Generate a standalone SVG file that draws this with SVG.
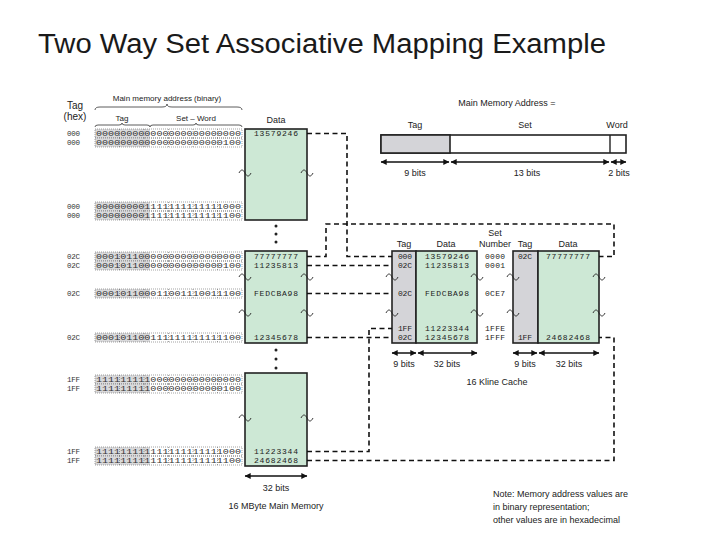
<svg xmlns="http://www.w3.org/2000/svg" xmlns:xlink="http://www.w3.org/1999/xlink" width="720" height="540" viewBox="0 0 720 540">
<style>
.t{font-family:"Liberation Sans",Arial,sans-serif;fill:#222}
.m{font-family:"Liberation Mono","Courier New",monospace;fill:#222}
.box{fill:#cde8d5;stroke:#222;stroke-width:1.6}
.tagc{fill:#d4d4d8;stroke:#222;stroke-width:1.6}
.dash{fill:none;stroke:#111;stroke-width:1.6;stroke-dasharray:5 3.5}
.til{fill:none;stroke:#222;stroke-width:0.9}
.dot{fill:none;stroke:#666;stroke-width:0.6;stroke-dasharray:1 1}
.gray{fill:#d9d9db}
.arr{stroke:#111;stroke-width:1.5;marker-start:url(#ah);marker-end:url(#ah)}
.brace{fill:none;stroke:#333;stroke-width:0.8}
.bits{font-family:"Liberation Mono","Courier New",monospace;fill:#333;font-size:7.5px}
.hx{font-family:"Liberation Mono","Courier New",monospace;fill:#333;font-size:7.5px}
.dv{font-family:"Liberation Mono","Courier New",monospace;fill:#222;font-size:8px}
</style>
<defs>
<marker id="ah" viewBox="0 0 10 10" refX="9.5" refY="5" markerWidth="7" markerHeight="6" orient="auto-start-reverse" markerUnits="userSpaceOnUse">
<path d="M0,0 L10,5 L0,10 z" fill="#111"/>
</marker>
<path id="tl" d="M-6,1 c2,-4 4,-4 6,0 c2,4 4,4 6,0" class="til"/>
<g id="bitbox">
<rect x="95" y="0" width="55" height="9" class="gray"/>
<rect x="95" y="0" width="147" height="9" class="dot"/>
<path d="M119.5,0v9M144,0v9M168.5,0v9M193,0v9M217.5,0v9" class="dot"/>
</g>
</defs>

<text class="t" x="38" y="53" font-size="27" textLength="568" lengthAdjust="spacingAndGlyphs" style="fill:#1a1a1a">Two Way Set Associative Mapping Example</text>

<g id="mm-header">
<text class="t" x="75" y="109" font-size="10" text-anchor="middle">Tag</text>
<text class="t" x="75" y="120" font-size="10" text-anchor="middle">(hex)</text>
<text class="t" x="167" y="101" font-size="8" text-anchor="middle">Main memory address (binary)</text>
<path class="brace" d="M95,110 q0,-3 5,-3 H162 q5,0 5,-3 q0,3 5,3 H237 q5,0 5,3"/>
<text class="t" x="122" y="121" font-size="8" text-anchor="middle">Tag</text>
<text class="t" x="196" y="121" font-size="8" text-anchor="middle">Set – Word</text>
<path class="brace" d="M95,127 q0,-2 3,-2 H119 q3,0 3,-2 q0,2 3,2 H147 q3,0 3,2"/>
<path class="brace" d="M150,127 q0,-2 3,-2 H193 q3,0 3,-2 q0,2 3,2 H239 q3,0 3,2"/>
<text class="t" x="276" y="123" font-size="9" text-anchor="middle">Data</text>
</g>

<g id="mm-box1">
<rect x="245" y="129" width="62" height="91" class="box"/>
<use xlink:href="#tl" x="245" y="172"/>
<use xlink:href="#tl" x="307" y="172"/>
</g>
<g id="mm-box2">
<rect x="245" y="251" width="62" height="92" class="box"/>
<use xlink:href="#tl" x="245" y="276"/>
<use xlink:href="#tl" x="307" y="276"/>
<use xlink:href="#tl" x="245" y="312"/>
<use xlink:href="#tl" x="307" y="312"/>
</g>
<g id="mm-box3">
<rect x="245" y="373" width="62" height="93" class="box"/>
<use xlink:href="#tl" x="245" y="417"/>
<use xlink:href="#tl" x="307" y="417"/>
</g>
<g id="mm-dots" fill="#222">
<circle cx="276" cy="226" r="1.5"/><circle cx="276" cy="234" r="1.5"/><circle cx="276" cy="242" r="1.5"/>
<circle cx="276" cy="350" r="1.5"/><circle cx="276" cy="359" r="1.5"/><circle cx="276" cy="368" r="1.5"/>
</g>

<g id="row-a"><use xlink:href="#bitbox" y="129"/>
<text class="hx" x="67" y="136.2" textLength="13">000</text>
<text class="bits" x="96" y="136.2" textLength="145" lengthAdjust="spacingAndGlyphs">000000000000000000000000</text>
<text class="dv" x="254" y="136.3" textLength="44">13579246</text></g>
<g id="row-b"><use xlink:href="#bitbox" y="138"/>
<text class="hx" x="67" y="145.2" textLength="13">000</text>
<text class="bits" x="96" y="145.2" textLength="145" lengthAdjust="spacingAndGlyphs">000000000000000000000100</text></g>
<g id="row-c"><use xlink:href="#bitbox" y="202"/>
<text class="hx" x="67" y="209.2" textLength="13">000</text>
<text class="bits" x="96" y="209.2" textLength="145" lengthAdjust="spacingAndGlyphs">000000001111111111111000</text></g>
<g id="row-d"><use xlink:href="#bitbox" y="211"/>
<text class="hx" x="67" y="218.2" textLength="13">000</text>
<text class="bits" x="96" y="218.2" textLength="145" lengthAdjust="spacingAndGlyphs">000000001111111111111100</text></g>
<g id="row-e"><use xlink:href="#bitbox" y="252"/>
<text class="hx" x="67" y="259.2" textLength="13">02C</text>
<text class="bits" x="96" y="259.2" textLength="145" lengthAdjust="spacingAndGlyphs">000101100000000000000000</text>
<text class="dv" x="254" y="259.3" textLength="44">77777777</text></g>
<g id="row-f"><use xlink:href="#bitbox" y="261"/>
<text class="hx" x="67" y="268.2" textLength="13">02C</text>
<text class="bits" x="96" y="268.2" textLength="145" lengthAdjust="spacingAndGlyphs">000101100000000000000100</text>
<text class="dv" x="254" y="268.3" textLength="44">11235813</text></g>
<g id="row-g"><use xlink:href="#bitbox" y="289"/>
<text class="hx" x="67" y="296.2" textLength="13">02C</text>
<text class="bits" x="96" y="296.2" textLength="145" lengthAdjust="spacingAndGlyphs">000101100011001110011100</text>
<text class="dv" x="254" y="296.3" textLength="44">FEDCBA98</text></g>
<g id="row-h"><use xlink:href="#bitbox" y="333"/>
<text class="hx" x="67" y="340.2" textLength="13">02C</text>
<text class="bits" x="96" y="340.2" textLength="145" lengthAdjust="spacingAndGlyphs">000101100111111111111100</text>
<text class="dv" x="254" y="340.3" textLength="44">12345678</text></g>
<g id="row-i"><use xlink:href="#bitbox" y="375"/>
<text class="hx" x="67" y="382.2" textLength="13">1FF</text>
<text class="bits" x="96" y="382.2" textLength="145" lengthAdjust="spacingAndGlyphs">111111111000000000000000</text></g>
<g id="row-j"><use xlink:href="#bitbox" y="384"/>
<text class="hx" x="67" y="391.2" textLength="13">1FF</text>
<text class="bits" x="96" y="391.2" textLength="145" lengthAdjust="spacingAndGlyphs">111111111000000000000100</text></g>
<g id="row-k"><use xlink:href="#bitbox" y="447"/>
<text class="hx" x="67" y="454.2" textLength="13">1FF</text>
<text class="bits" x="96" y="454.2" textLength="145" lengthAdjust="spacingAndGlyphs">111111111111111111111000</text>
<text class="dv" x="254" y="454.3" textLength="44">11223344</text></g>
<g id="row-l"><use xlink:href="#bitbox" y="456"/>
<text class="hx" x="67" y="463.2" textLength="13">1FF</text>
<text class="bits" x="96" y="463.2" textLength="145" lengthAdjust="spacingAndGlyphs">111111111111111111111100</text>
<text class="dv" x="254" y="463.3" textLength="44">24682468</text></g>

<g id="mm-footer">
<line x1="245" y1="476" x2="307" y2="476" class="arr"/>
<text class="t" x="276" y="491" font-size="9" text-anchor="middle">32 bits</text>
<text class="t" x="276" y="509" font-size="9" text-anchor="middle">16 MByte Main Memory</text>
</g>

<g id="address-format">
<text class="t" x="507" y="106" font-size="9" text-anchor="middle">Main Memory Address =</text>
<text class="t" x="415" y="128" font-size="9" text-anchor="middle">Tag</text>
<text class="t" x="525" y="128" font-size="9" text-anchor="middle">Set</text>
<text class="t" x="617" y="128" font-size="9" text-anchor="middle">Word</text>
<rect x="381" y="135" width="245" height="18" fill="#fff" stroke="#222" stroke-width="1.6"/>
<rect x="381" y="135" width="69" height="18" class="tagc"/>
<line x1="610" y1="135" x2="610" y2="153" stroke="#222" stroke-width="1.4"/>
<line x1="381" y1="162" x2="449" y2="162" class="arr"/>
<line x1="451" y1="162" x2="609" y2="162" class="arr"/>
<line x1="611" y1="162" x2="626" y2="162" class="arr"/>
<text class="t" x="415" y="176" font-size="9" text-anchor="middle">9 bits</text>
<text class="t" x="527" y="176" font-size="9" text-anchor="middle">13 bits</text>
<text class="t" x="619" y="176" font-size="9" text-anchor="middle">2 bits</text>
</g>

<g id="cache-way1">
<text class="t" x="404" y="247" font-size="9" text-anchor="middle">Tag</text>
<text class="t" x="446" y="247" font-size="9" text-anchor="middle">Data</text>
<rect x="392" y="251" width="24" height="92" class="tagc"/>
<rect x="416" y="251" width="61" height="92" class="box"/>
<use xlink:href="#tl" x="392" y="276"/><use xlink:href="#tl" x="392" y="312"/>
<use xlink:href="#tl" x="477" y="276"/><use xlink:href="#tl" x="477" y="312"/>
<g class="dv">
<text x="398" y="259.3" textLength="14">000</text><text x="425" y="259.3" textLength="44">13579246</text>
<text x="398" y="268.3" textLength="14">02C</text><text x="425" y="268.3" textLength="44">11235813</text>
<text x="398" y="296.3" textLength="14">02C</text><text x="425" y="296.3" textLength="44">FEDCBA98</text>
<text x="398" y="331.3" textLength="14">1FF</text><text x="425" y="331.3" textLength="44">11223344</text>
<text x="398" y="340.3" textLength="14">02C</text><text x="425" y="340.3" textLength="44">12345678</text>
</g>
<line x1="392" y1="353" x2="416" y2="353" class="arr"/>
<line x1="418" y1="353" x2="477" y2="353" class="arr"/>
<text class="t" x="404" y="367" font-size="9" text-anchor="middle">9 bits</text>
<text class="t" x="447" y="367" font-size="9" text-anchor="middle">32 bits</text>
</g>

<g id="set-number">
<text class="t" x="495" y="236" font-size="9" text-anchor="middle">Set</text>
<text class="t" x="495" y="247" font-size="9" text-anchor="middle">Number</text>
<g class="dv">
<text x="485" y="259.3" textLength="20">0000</text>
<text x="485" y="268.3" textLength="20">0001</text>
<text x="485" y="296.3" textLength="20">0CE7</text>
<text x="485" y="331.3" textLength="20">1FFE</text>
<text x="485" y="340.3" textLength="20">1FFF</text>
</g>
</g>

<g id="cache-way2">
<text class="t" x="525" y="247" font-size="9" text-anchor="middle">Tag</text>
<text class="t" x="568" y="247" font-size="9" text-anchor="middle">Data</text>
<rect x="513" y="251" width="25" height="92" class="tagc"/>
<rect x="538" y="251" width="61" height="92" class="box"/>
<use xlink:href="#tl" x="513" y="276"/><use xlink:href="#tl" x="513" y="312"/>
<use xlink:href="#tl" x="599" y="276"/><use xlink:href="#tl" x="599" y="312"/>
<g class="dv">
<text x="518" y="259.3" textLength="14">02C</text><text x="546" y="259.3" textLength="44">77777777</text>
<text x="518" y="340.3" textLength="14">1FF</text><text x="546" y="340.3" textLength="44">24682468</text>
</g>
<line x1="513" y1="353" x2="537" y2="353" class="arr"/>
<line x1="539" y1="353" x2="599" y2="353" class="arr"/>
<text class="t" x="525" y="367" font-size="9" text-anchor="middle">9 bits</text>
<text class="t" x="569" y="367" font-size="9" text-anchor="middle">32 bits</text>
</g>
<text class="t" x="497" y="385" font-size="9" text-anchor="middle">16 Kline Cache</text>

<g id="connectors">
<path class="dash" d="M307,133.5 H347 V256.5 H392"/>
<path class="dash" d="M307,256.5 H326 V224 H614 V256.5 H599"/>
<path class="dash" d="M307,265.5 H392"/>
<path class="dash" d="M307,293.5 H392"/>
<path class="dash" d="M307,337.5 H392"/>
<path class="dash" d="M307,451.5 H369 V328.5 H392"/>
<path class="dash" d="M307,460.5 H614 V337.5 H599"/>
</g>

<g id="note" class="t" font-size="9">
<text x="493" y="497">Note: Memory address values are</text>
<text x="493" y="510">in binary representation;</text>
<text x="493" y="523">other values are in hexadecimal</text>
</g>
</svg>
